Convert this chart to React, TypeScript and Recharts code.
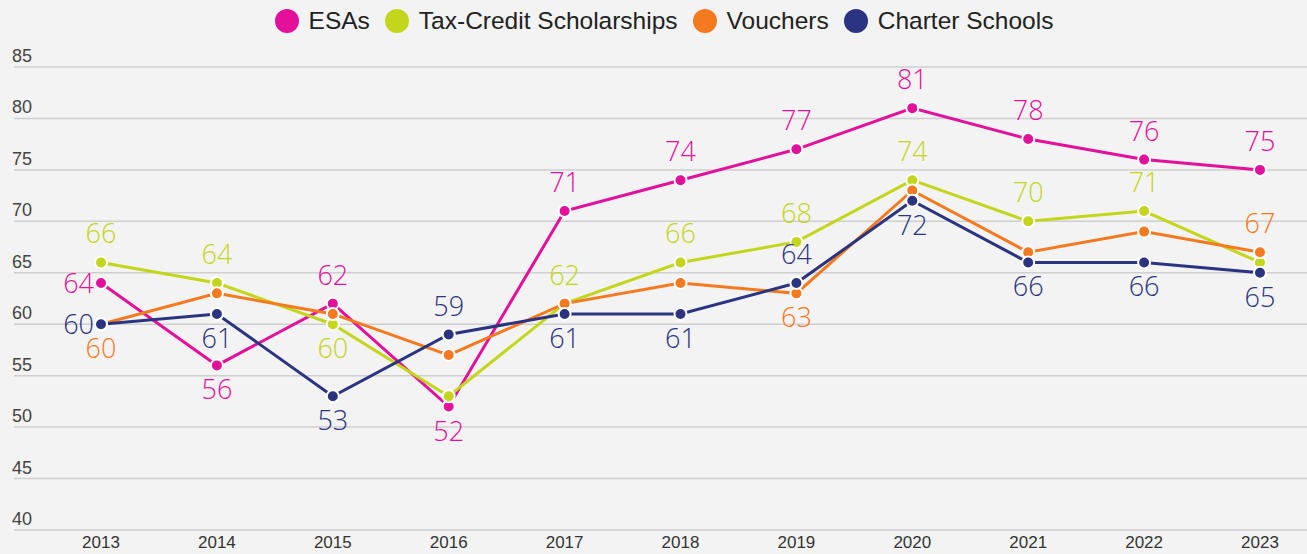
import { LineChart, Line, XAxis, YAxis, CartesianGrid, LabelList } from 'recharts';

// School choice approval by year (percent)
const years = ['2013', '2014', '2015', '2016', '2017', '2018', '2019', '2020', '2021', '2022', '2023'];
const esas = [64, 56, 62, 52, 71, 74, 77, 81, 78, 76, 75];
const taxCredit = [66, 64, 60, 53, 62, 66, 68, 74, 70, 71, 66];
const vouchers = [60, 63, 61, 57, 62, 64, 63, 73, 67, 69, 67];
const charter = [60, 61, 53, 59, 61, 61, 64, 72, 66, 66, 65];
const yTicks = [40, 45, 50, 55, 60, 65, 70, 75, 80, 85];

// where each value label sits ('' = no label)
const esaLabelPos = ['left', 'bottom', 'top', 'bottom', 'top', 'top', 'top', 'top', 'top', 'top', 'top'];
const taxLabelPos = ['top', 'top', 'bottom', '', 'top', 'top', 'top', 'top', 'top', 'top', ''];
const voucherLabelPos = ['bottom', '', '', '', '', '', 'bottom', '', '', '', 'top'];
const charterLabelPos = ['left', 'bottom', 'bottom', 'top', 'bottom', 'bottom', 'top', 'bottom', 'bottom', 'bottom', 'bottom'];

const data = years.map((year, i) => ({
  year,
  esas: esas[i],
  taxCredit: taxCredit[i],
  vouchers: vouchers[i],
  charter: charter[i],
}));

const series = [
  { key: 'esas', label: 'ESAs', color: '#e2109b', labels: esaLabelPos },
  { key: 'taxCredit', label: 'Tax-Credit Scholarships', color: '#c3d61c', labels: taxLabelPos },
  { key: 'vouchers', label: 'Vouchers', color: '#f57a1f', labels: voucherLabelPos },
  { key: 'charter', label: 'Charter Schools', color: '#2b3480', labels: charterLabelPos },
];

const FONT = '"Liberation Sans", Arial, sans-serif';
const LABEL_FONT = '"Open Sans", "Noto Sans", sans-serif';

const makeLabel = (positions: string[], color: string) => (props: any) => {
  const { x, y, value, index } = props;
  const pos = positions[index];
  if (!pos) return null;
  let tx = x;
  let ty = y;
  let anchor: 'middle' | 'end' = 'middle';
  if (pos === 'top') ty = y - 19;
  if (pos === 'bottom') ty = y + 34;
  if (pos === 'left') {
    tx = x - 7;
    ty = y + 10;
    anchor = 'end';
  }
  return (
    <text x={tx} y={ty} fill={color} fontSize={27} fontWeight={300} fontFamily={LABEL_FONT} textAnchor={anchor}>
      {value}
    </text>
  );
};

const YTick = (props: any) => {
  const { y, payload } = props;
  return (
    <text x={12} y={y - 5} fill="#444" fontSize={18} fontFamily={FONT} textAnchor="start">
      {payload.value}
    </text>
  );
};

function LegendRow() {
  return (
    <div
      style={{
        position: 'absolute',
        top: 7,
        left: 0,
        width: 1307,
        display: 'flex',
        justifyContent: 'center',
        paddingLeft: 36,
        boxSizing: 'border-box',
        fontFamily: FONT,
        fontSize: 24.5,
        lineHeight: '28px',
        color: '#222',
      }}
    >
      {series.map((s) => (
        <span key={s.key} style={{ display: 'flex', alignItems: 'center', marginRight: 15 }}>
          <span
            style={{
              width: 24,
              height: 24,
              borderRadius: '50%',
              background: s.color,
              display: 'inline-block',
              marginRight: 10,
            }}
          />
          {s.label}
        </span>
      ))}
    </div>
  );
}

export default function App() {
  return (
    <div style={{ position: 'absolute', left: 0, top: 0, width: 1307, height: 554, background: '#f3f3f3' }}>
      <LegendRow />
      <LineChart width={1307} height={554} data={data} margin={{ top: 67, right: 0, bottom: 0, left: 0 }}>
        <CartesianGrid vertical={false} stroke="#cfcfcf" strokeWidth={1.5} />
        <XAxis
          dataKey="year"
          axisLine={false}
          tickLine={false}
          height={24}
          padding={{ left: 87, right: 47 }}
          tick={{ fontSize: 17, fill: '#333', fontFamily: FONT }}
          dy={-2}
        />
        <YAxis
          domain={[40, 85]}
          ticks={yTicks}
          interval={0}
          width={14}
          axisLine={false}
          tickLine={false}
          tick={YTick}
        />
        {series.map((s) => (
          <Line
            key={s.key}
            dataKey={s.key}
            name={s.label}
            type="linear"
            stroke={s.color}
            strokeWidth={3}
            dot={{ r: 6, fill: s.color, stroke: '#fff', strokeWidth: 2 }}
            isAnimationActive={false}
          >
            <LabelList dataKey={s.key} content={makeLabel(s.labels, s.color)} />
          </Line>
        ))}
      </LineChart>
    </div>
  );
}
